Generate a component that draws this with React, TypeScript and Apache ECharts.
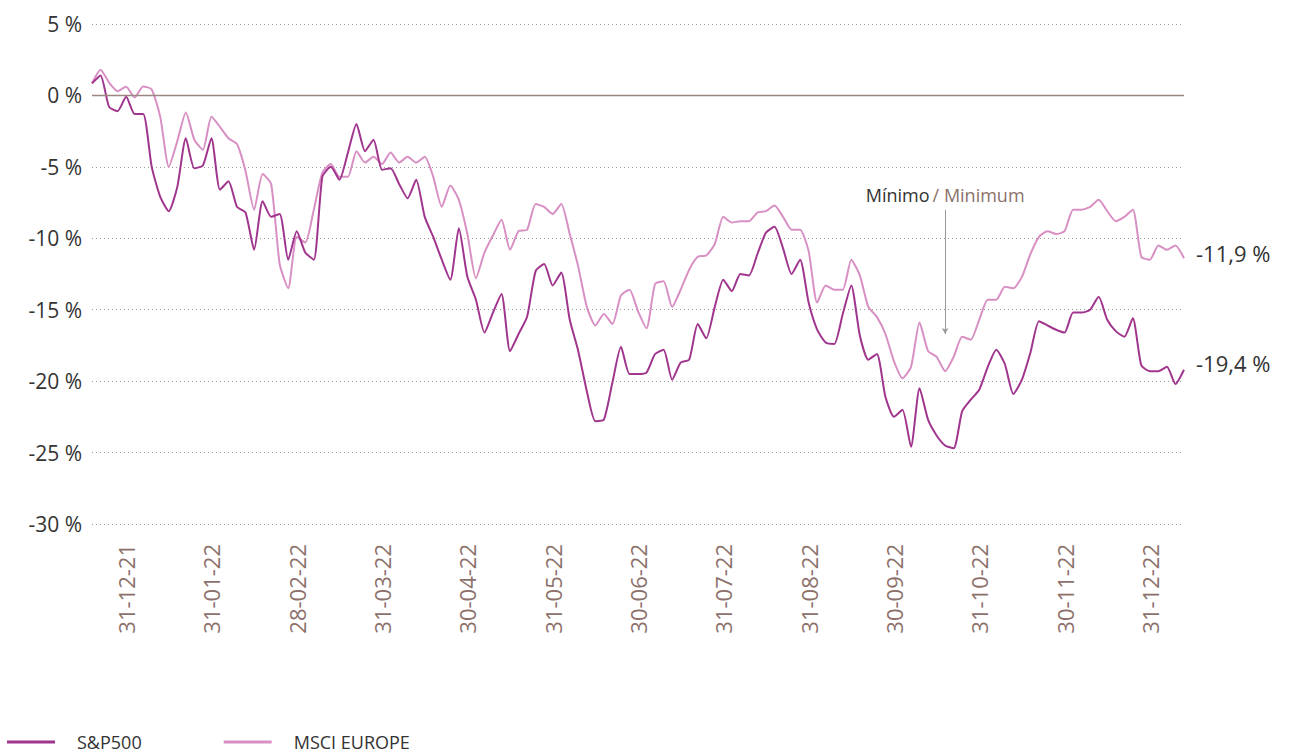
import React, { useEffect, useRef } from 'react';
import * as echarts from 'echarts';

// Cumulative performance (%), sampled ~every second trading day, 31-12-21 at index 4
const SP500 = [
  0.84, 1.4, -0.8, -1.1, -0.1, -1.3, -1.3, -5.0, -7.1, -8.1,
  -6.4, -3.0, -5.1, -4.9, -3.0, -6.6, -6.0, -7.8, -8.2, -10.8,
  -7.4, -8.5, -8.3, -11.5, -9.5, -11.0, -11.5, -5.7, -5.0, -5.9,
  -4.0, -2.0, -3.9, -3.1, -5.2, -5.1, -6.2, -7.2, -5.9, -8.5,
  -9.9, -11.5, -12.9, -9.3, -12.7, -14.3, -16.6, -15.2, -13.9, -17.9,
  -16.7, -15.5, -12.3, -11.8, -13.3, -12.4, -15.7, -17.9, -20.7, -22.8,
  -22.7, -20.1, -17.6, -19.5, -19.5, -19.4, -18.1, -17.8, -19.9, -18.7,
  -18.5, -16.0, -17.0, -14.8, -12.9, -13.7, -12.5, -12.6, -11.1, -9.6,
  -9.2, -10.7, -12.5, -11.5, -14.5, -16.4, -17.3, -17.4, -15.3, -13.3,
  -16.8, -18.5, -18.1, -21.1, -22.5, -22.0, -24.6, -20.5, -22.7, -23.8,
  -24.5, -24.7, -22.1, -21.3, -20.6, -19.0, -17.8, -18.8, -20.9, -19.9,
  -18.0, -15.8, -16.1, -16.4, -16.6, -15.2, -15.2, -15.0, -14.1, -15.7,
  -16.5, -16.9, -15.6, -18.9, -19.3, -19.3, -19.0, -20.2, -19.2,
];

const MSCI_EUROPE = [
  0.84, 1.8, 0.9, 0.3, 0.6, -0.14, 0.63, 0.42, -1.5, -5.0,
  -3.2, -1.2, -3.1, -3.8, -1.5, -2.2, -3.0, -3.4, -5.3, -8.0,
  -5.5, -6.2, -11.8, -13.5, -9.9, -10.3, -8.0, -5.4, -4.8, -5.7,
  -5.7, -3.9, -4.7, -4.3, -4.8, -4.0, -4.7, -4.3, -4.7, -4.3,
  -5.7, -7.8, -6.3, -7.3, -9.7, -12.8, -11.0, -9.8, -8.7, -10.8,
  -9.5, -9.4, -7.6, -7.8, -8.3, -7.6, -9.7, -12.0, -14.8, -16.1,
  -15.3, -16.0, -14.0, -13.6, -15.1, -16.3, -13.2, -13.0, -14.8, -13.6,
  -12.2, -11.3, -11.2, -10.4, -8.5, -8.9, -8.8, -8.8, -8.2, -8.1,
  -7.7, -8.5, -9.4, -9.4, -10.9, -14.5, -13.3, -13.6, -13.6, -11.5,
  -12.6, -14.8, -15.5, -16.7, -18.6, -19.8, -19.0, -15.9, -17.9, -18.3,
  -19.3, -18.3, -16.9, -17.1, -15.7, -14.3, -14.3, -13.4, -13.5, -12.7,
  -11.1, -9.9, -9.5, -9.7, -9.5, -8.0, -8.0, -7.8, -7.3, -8.1,
  -8.8, -8.5, -8.0, -11.3, -11.5, -10.5, -10.8, -10.5, -11.4,
];

const TICK_LABELS = [
  '31-12-21', '31-01-22', '28-02-22', '31-03-22', '30-04-22', '31-05-22', '30-06-22',
  '31-07-22', '31-08-22', '30-09-22', '31-10-22', '30-11-22', '31-12-22',
];
const TICK_START = 4;
const TICK_STEP = 10;

const SERIES_NAMES = ['S&P500', 'MSCI EUROPE'];
const END_LABELS = ['-19,4 %', '-11,9 %'];

const MIN_INDEX = 100;
const ARROW_FROM = -8.0;
const ARROW_TO = -16.7;

const Y_MIN = -30;
const Y_MAX = 5;
const Y_STEP = 5;

const CATEGORIES = SP500.map((_, i) => {
  const k = (i - TICK_START) / TICK_STEP;
  return i >= TICK_START && Number.isInteger(k) && k < TICK_LABELS.length ? TICK_LABELS[k] : `p${i}`;
});

const FONT = '"Open Sans", sans-serif';
const SP_COLOR = '#a0358e';
const EU_COLOR = '#d890c4';
const BROWN = '#8c716b';

export default function App() {
  const ref = useRef<HTMLDivElement>(null);

  useEffect(() => {
    const chart = echarts.init(ref.current!, null, { renderer: 'svg' });
    chart.setOption({
      animation: false,
      textStyle: { fontFamily: FONT },
      grid: { left: 92, right: 106, top: 24, bottom: 232, containLabel: false },
      legend: {
        left: 7,
        top: 733,
        padding: 0,
        itemWidth: 48,
        itemHeight: 3,
        itemGap: 82,
        icon: 'rect',
        textStyle: { fontSize: 18, color: '#333', fontFamily: FONT, padding: [0, 0, 0, 17] },
        data: SERIES_NAMES,
      },
      xAxis: {
        type: 'category',
        boundaryGap: false,
        data: CATEGORIES,
        axisLine: { show: false },
        axisTick: { show: false },
        splitLine: { show: false },
        axisLabel: {
          rotate: 90,
          margin: 20,
          fontSize: 22,
          color: BROWN,
          fontFamily: FONT,
          interval: (idx: number, val: string) => TICK_LABELS.includes(val),
        },
      },
      yAxis: {
        type: 'value',
        min: Y_MIN,
        max: Y_MAX,
        interval: Y_STEP,
        axisLine: { show: false },
        axisTick: { show: false },
        axisLabel: {
          margin: 10,
          fontSize: 21,
          color: '#333',
          fontFamily: FONT,
          formatter: (v: number) => `${v} %`,
        },
        splitLine: { lineStyle: { type: [1, 3], color: '#9a9a9a', width: 1 } },
      },
      series: [
        {
          name: SERIES_NAMES[0],
          type: 'line',
          data: SP500,
          showSymbol: false,
          symbol: 'none',
          smooth: 0.2,
          z: 3,
          lineStyle: { color: SP_COLOR, width: 2 },
          itemStyle: { color: SP_COLOR },
          endLabel: {
            show: true,
            formatter: END_LABELS[0],
            distance: 12,
            offset: [0, -7],
            fontSize: 22,
            color: '#333',
            fontFamily: FONT,
          },
          markLine: {
            silent: true,
            symbol: ['none', 'none'],
            label: { show: false },
            lineStyle: { color: '#9c8680', width: 1.3, type: 'solid' },
            data: [{ yAxis: 0 }],
          },
        },
        {
          name: SERIES_NAMES[1],
          type: 'line',
          data: MSCI_EUROPE,
          showSymbol: false,
          symbol: 'none',
          smooth: 0.2,
          z: 2,
          lineStyle: { color: EU_COLOR, width: 2 },
          itemStyle: { color: EU_COLOR },
          endLabel: {
            show: true,
            formatter: END_LABELS[1],
            distance: 12,
            offset: [0, -5],
            fontSize: 22,
            color: '#333',
            fontFamily: FONT,
          },
          markLine: {
            silent: true,
            symbol: ['none', 'arrow'],
            symbolSize: [5, 6],
            lineStyle: { color: '#999', width: 1, type: 'solid' },
            label: {
              show: true,
              position: 'start',
              distance: 6,
              formatter: '{a|Mínimo} {b|/ Minimum}',
              rich: {
                a: { fontSize: 18, color: '#333', fontFamily: FONT },
                b: { fontSize: 18, color: BROWN, fontFamily: FONT },
              },
            },
            data: [[{ coord: [MIN_INDEX, ARROW_FROM] }, { coord: [MIN_INDEX, ARROW_TO] }]],
          },
        },
      ],
    });
    return () => chart.dispose();
  }, []);

  return (
    <div
      ref={ref}
      style={{ position: 'absolute', left: 0, top: 0, width: 1290, height: 756 }}
    />
  );
}
